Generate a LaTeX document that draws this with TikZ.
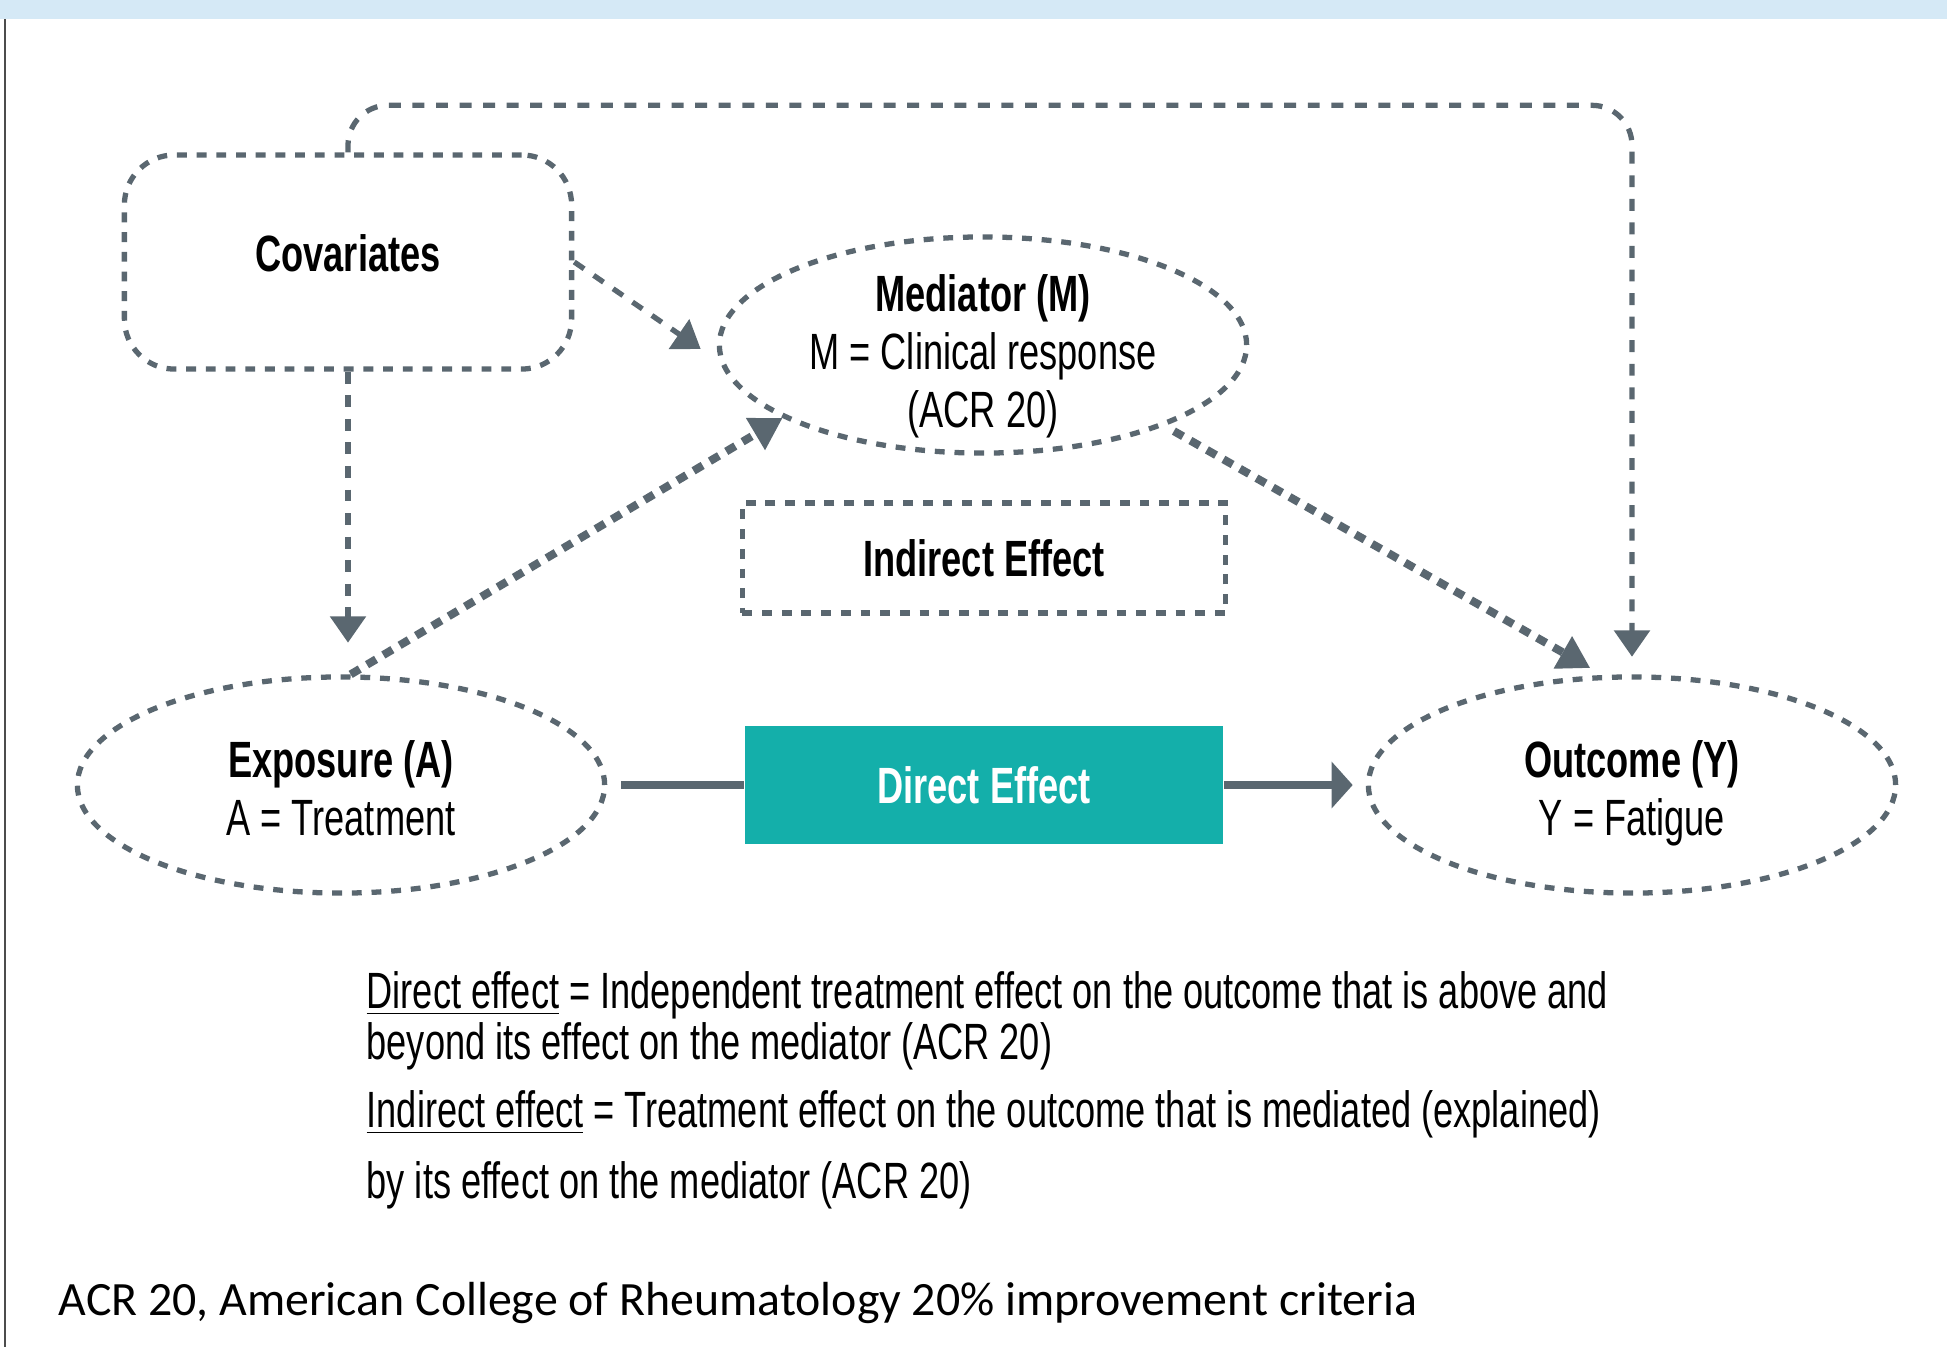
\documentclass[tikz,border=0pt]{standalone}
\usepackage{fontspec}
\setmainfont{Liberation Sans}[FakeStretch=0.71]
\newfontfamily\footfont{Carlito}
\usepackage{tikz}
\usetikzlibrary{shapes.geometric,arrows.meta}
\definecolor{linegray}{RGB}{90,103,112}
\definecolor{effteal}{RGB}{20,175,170}
\definecolor{bandblue}{RGB}{213,233,246}

\begin{document}
\begin{tikzpicture}[x=0.01cm,y=-0.01cm,
  txt/.style={font=\fontsize{14.5}{16.5}\selectfont, align=center, inner sep=0pt},
  oval/.style={ellipse, draw=linegray, line width=1.5pt, dash pattern=on 2.8pt off 2.8pt,
    minimum width=5.27cm, minimum height=2.16cm, inner sep=0pt},
  dashbox/.style={draw=linegray, line width=1.5pt, dash pattern=on 2.8pt off 2.8pt, inner sep=0pt},
  conn/.style={draw=linegray, line width=1.5pt, dash pattern=on 3.4pt off 3.3pt,
    -{Triangle[length=7.5pt,width=10pt]}},
  thickconn/.style={draw=linegray, line width=2.3pt, dash pattern=on 3pt off 2.4pt,
    -{Triangle[length=9pt,width=10pt]}},
  solidconn/.style={draw=linegray, line width=2.2pt},
  desc/.style={anchor=base west, inner sep=0pt, font=\fontsize{14.5}{16.5}\selectfont}]
\useasboundingbox (0,0) rectangle (1947,1347);
\draw[line width=0.7pt, black!70] (5,19) -- (5,1347);
\fill[bandblue] (0,0) rectangle (1947,19);

% shapes
\node[dashbox, rounded corners=0.5cm, minimum width=4.47cm, minimum height=2.14cm] (cov) at (348,262) {};
\node[oval] (med) at (983,345) {};
\node[dashbox, minimum width=4.83cm, minimum height=1.10cm] (ind) at (984,558) {};
\node[oval] (expo) at (341,785) {};
\node[oval] (out) at (1632,785) {};
\node[txt, fill=effteal, text=white, minimum width=4.78cm, minimum height=1.18cm] (direct) at (984,785) {\bfseries Direct Effect};

% texts
\node[txt] (covtxt) at (348,253) {\bfseries Covariates};
\node[txt] (medtxt) at (983,356) {\textbf{Mediator (M)}\\M = Clinical response\\(ACR 20)};
\node[txt] (indtxt) at (ind.center) {\bfseries Indirect Effect};
\node[txt] (expotxt) at (341,788) {\textbf{Exposure (A)}\\A = Treatment};
\node[txt] (outtxt) at (1632,793) {\textbf{Outcome (Y)}\\Y = Fatigue};

% connectors
\draw[conn] (cov.east) -- ([xshift=-0.16cm,yshift=-0.04cm]med.west);
\draw[conn, shorten >=9pt] (cov.south) -- (cov.south |- expo.north);
\draw[conn, rounded corners=0.4cm, shorten >=5pt] (cov.north) -- ++(0,-47) -| (out.north);
\draw[thickconn] (expo.85) -- (med.200);
\draw[thickconn, shorten <=3pt, shorten >=4pt] (med.336) -- (out.105);
\draw[solidconn, shorten <=4pt] (expo.east) -- (direct.west);
\draw[solidconn, -{Triangle[length=6pt,width=13pt]}, shorten >=3.7pt] (direct.east) -- (out.west);

% legend text
\node[desc] (d1) at (366,1008) {\underline{Direct effect} = Independent treatment effect on the outcome that is above and};
\node[desc] (d2) at (366,1059) {beyond its effect on the mediator (ACR 20)};
\node[desc] (d3) at (366,1127) {\underline{Indirect effect} = Treatment effect on the outcome that is mediated (explained)};
\node[desc] (d4) at (366,1198) {by its effect on the mediator (ACR 20)};
\node[anchor=base west, inner sep=0pt, font=\footfont\fontsize{13.6}{15}\selectfont] (foot) at (58,1315) {ACR 20, American College of Rheumatology 20\% improvement criteria};
\end{tikzpicture}
\end{document}
